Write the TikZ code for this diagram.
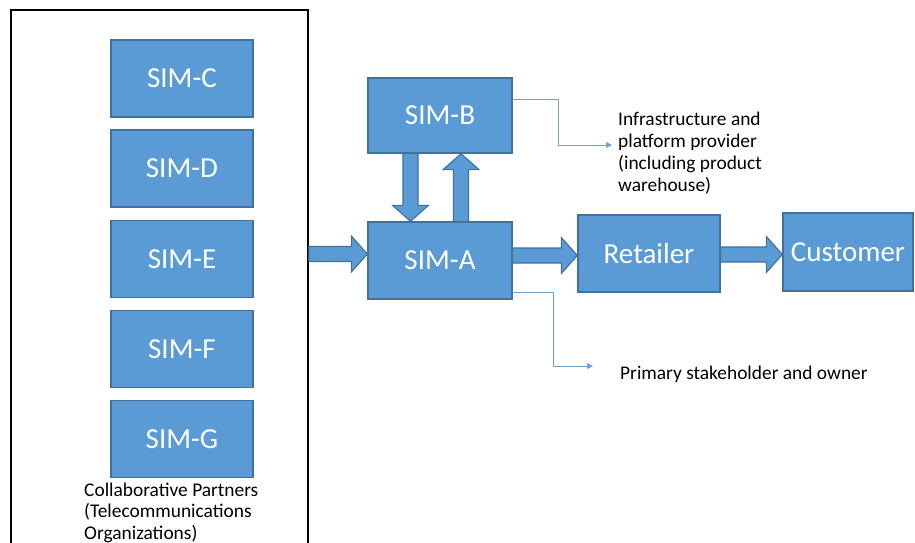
\documentclass[tikz,border=0pt]{standalone}
\usepackage{fontspec}
\setmainfont{Carlito}
\usetikzlibrary{calc, arrows.meta}

\definecolor{simfill}{HTML}{5B9BD5}
\definecolor{simedge}{HTML}{41719C}
\definecolor{linkblue}{HTML}{6FA3D6}

\tikzset{
  sim/.style={draw=simedge, fill=simfill, line width=1.3pt, text=white,
    minimum width=142pt, minimum height=77pt, inner sep=0pt,
    font=\fontsize{29}{34}\selectfont},
  fatarrow/.style={draw=simedge, fill=simfill, line width=1.1pt, line join=miter},
  thinlink/.style={draw=linkblue, line width=0.9pt, -{Triangle[width=6pt,length=6pt]}},
  note/.style={align=left, inner sep=0pt, font=\fontsize{19.4}{21.8}\selectfont}
}

% thick block arrow from #1 (tail) to #2 (tip)
\newcommand{\fat}[2]{%
  \coordinate (hb) at ($#2!16pt!#1$);
  \draw[fatarrow] ($#1!7.5pt!90:#2$) -- ($(hb)!7.5pt!-90:#1$) -- ($(hb)!18pt!-90:#1$)
    -- #2 -- ($(hb)!18pt!90:#1$) -- ($(hb)!7.5pt!90:#1$) -- ($#1!7.5pt!-90:#2$) -- cycle;}

\begin{document}
\begin{tikzpicture}[x=1pt, y=-1pt]
  \useasboundingbox (0,0) rectangle (915,543);
  \fill[white] (0,0) rectangle (915,543);

  % partner group
  \node[draw, line width=1.6pt, minimum width=297pt, minimum height=560pt, inner sep=0pt]
    (partners) at (159.5,290) {};
  \node[sim] (simc) at (182,78.5) {SIM-C};
  \node[sim] (simd) at (182,168.5) {SIM-D};
  \node[sim] (sime) at (182,259) {SIM-E};
  \node[sim] (simf) at (182,349) {SIM-F};
  \node[sim] (simg) at (182,439) {SIM-G};
  \node[note, anchor=north west, font=\fontsize{19.4}{21.3}\selectfont] (collab) at (84,483)
    {Collaborative Partners\\(Telecommunications\\Organizations)};

  % main chain
  \node[sim, minimum width=144pt, minimum height=75pt] (simb) at (440,115.5) {SIM-B};
  \node[sim, minimum width=144pt] (sima) at (440,260.5) {SIM-A};
  \node[sim] (retailer) at (649,253.5) {Retailer};
  \node[sim, minimum width=130pt, minimum height=78pt] (customer) at (848,252) {Customer};

  \coordinate (a1) at (partners.east |- 0,254);
  \coordinate (a2) at (sima.west |- a1);
  \coordinate (r1) at ($(sima.east)+(0,-5)$);
  \coordinate (r2) at (retailer.west |- r1);
  \coordinate (c1) at (retailer.east |- 0,254.5);
  \coordinate (c2) at (customer.west |- c1);
  \coordinate (d1) at ($(simb.south)+(-29.5,0)$);
  \coordinate (d2) at (sima.north -| d1);
  \coordinate (u1) at ($(sima.north)+(21,0)$);
  \coordinate (u2) at (simb.south -| u1);

  \fat{(a1)}{(a2)}
  \fat{(r1)}{(r2)}
  \fat{(c1)}{(c2)}
  \fat{(d1)}{(d2)}
  \fat{(u1)}{(u2)}

  % role notes
  \node[note, anchor=north west] (infra) at (618,112)
    {Infrastructure and\\platform provider\\(including product\\warehouse)};
  \node[note, anchor=west] (owner) at (620,374) {Primary stakeholder and owner};
  \coordinate (infratip) at (612,145);
  \coordinate (ownertip) at (593,366);

  \draw[thinlink] ($(simb.north east)+(0,22)$) -| (558,145) -- (infratip);
  \draw[thinlink] ($(sima.south east)+(0,-7)$) -| (553,366) -- (ownertip);
\end{tikzpicture}
\end{document}
